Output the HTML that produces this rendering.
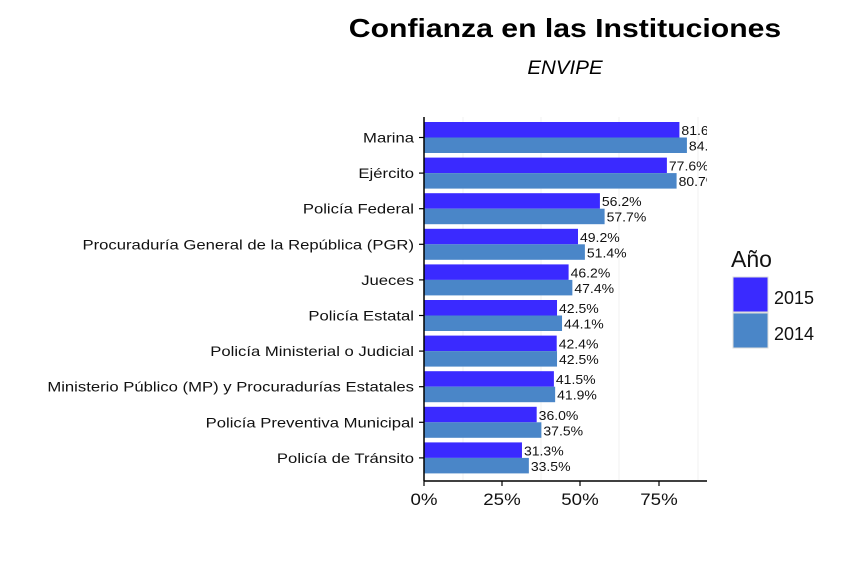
<!DOCTYPE html><html><head><meta charset="utf-8"><style>body{margin:0;background:#fff}</style></head><body>
<svg width="857" height="557" xmlns="http://www.w3.org/2000/svg" font-family="Liberation Sans, Arial, sans-serif">
<rect width="857" height="557" fill="#fff"/>
<text class="w" data-f="1.16" x="565" y="37" font-size="26" font-weight="bold" text-anchor="middle">Confianza en las Instituciones</text>
<text class="w" data-f="1.08" x="565" y="74" font-size="19" font-style="italic" text-anchor="middle">ENVIPE</text>
<defs><clipPath id="c"><rect x="424" y="110" width="283" height="380"/></clipPath></defs>
<g stroke="#f0f0f0" stroke-width="1">
<line x1="463" y1="117" x2="463" y2="480"/><line x1="541" y1="117" x2="541" y2="480"/><line x1="619" y1="117" x2="619" y2="480"/><line x1="698" y1="117" x2="698" y2="480"/>
</g>
<g id="bars" clip-path="url(#c)" font-size="12.5" fill="#111"></g>
<g id="labs" font-size="14" text-anchor="end" fill="#111"></g>
<line x1="424" y1="117" x2="424" y2="481" stroke="#000" stroke-width="1.5"/>
<line x1="424" y1="481" x2="707" y2="481" stroke="#000" stroke-width="1.5"/>
<g stroke="#000" stroke-width="1.2"><line x1="424" y1="481" x2="424" y2="486"/><line x1="502" y1="481" x2="502" y2="486"/><line x1="580" y1="481" x2="580" y2="486"/><line x1="659" y1="481" x2="659" y2="486"/></g>
<g font-size="17" text-anchor="middle" fill="#111"><text class="w" data-f="1.1" x="424" y="505">0%</text><text class="w" data-f="1.1" x="502" y="505">25%</text><text class="w" data-f="1.1" x="580" y="505">50%</text><text class="w" data-f="1.1" x="659" y="505">75%</text></g>
<text x="731" y="267" font-size="23" fill="#111">Año</text>
<rect x="733" y="277" width="35" height="35" fill="#3a2aff" stroke="#ddd"/>
<rect x="733" y="313" width="35" height="35" fill="#4a86c8" stroke="#ddd"/>
<text x="774" y="304" font-size="18" fill="#111">2015</text>
<text x="774" y="340" font-size="18" fill="#111">2014</text>
<script>
var d=[["Marina",81.6,84],["Ejército",77.6,80.7],["Policía Federal",56.2,57.7],["Procuraduría General de la República (PGR)",49.2,51.4],["Jueces",46.2,47.4],["Policía Estatal",42.5,44.1],["Policía Ministerial o Judicial",42.4,42.5],["Ministerio Público (MP) y Procuradurías Estatales",41.5,41.9],["Policía Preventiva Municipal",36.0,37.5],["Policía de Tránsito",31.3,33.5]];
var b=document.getElementById('bars'),l=document.getElementById('labs'),ns="http://www.w3.org/2000/svg",s=3.13;
function el(p,t,a,tx){var e=document.createElementNS(ns,t);for(var k in a)e.setAttribute(k,a[k]);if(tx)e.textContent=tx;p.appendChild(e);return e;}
d.forEach(function(r,i){var y=122+i*35.6;
el(b,'rect',{x:424,y:y,width:r[1]*s,height:15.5,fill:'#3a2aff'});
el(b,'rect',{x:424,y:y+15.5,width:r[2]*s,height:15.5,fill:'#4a86c8'});
el(b,'text',{x:424+r[1]*s+2,y:y+13,'class':'w','data-f':'1.12'},r[1].toFixed(1)+'%');
el(b,'text',{x:424+r[2]*s+2,y:y+28.5,'class':'w','data-f':'1.12'},r[2].toFixed(1)+'%');
el(l,'text',{x:414,y:y+20.5,'class':'w','data-f':'1.19'},r[0]);
el(l,'line',{x1:419,x2:424,y1:y+15.5,y2:y+15.5,stroke:'#000','stroke-width':1.2});
});
document.querySelectorAll('.w').forEach(function(t){var w=t.getComputedTextLength();t.setAttribute('textLength',w*parseFloat(t.getAttribute('data-f')));t.setAttribute('lengthAdjust','spacingAndGlyphs');});
</script>
</svg></body></html>
